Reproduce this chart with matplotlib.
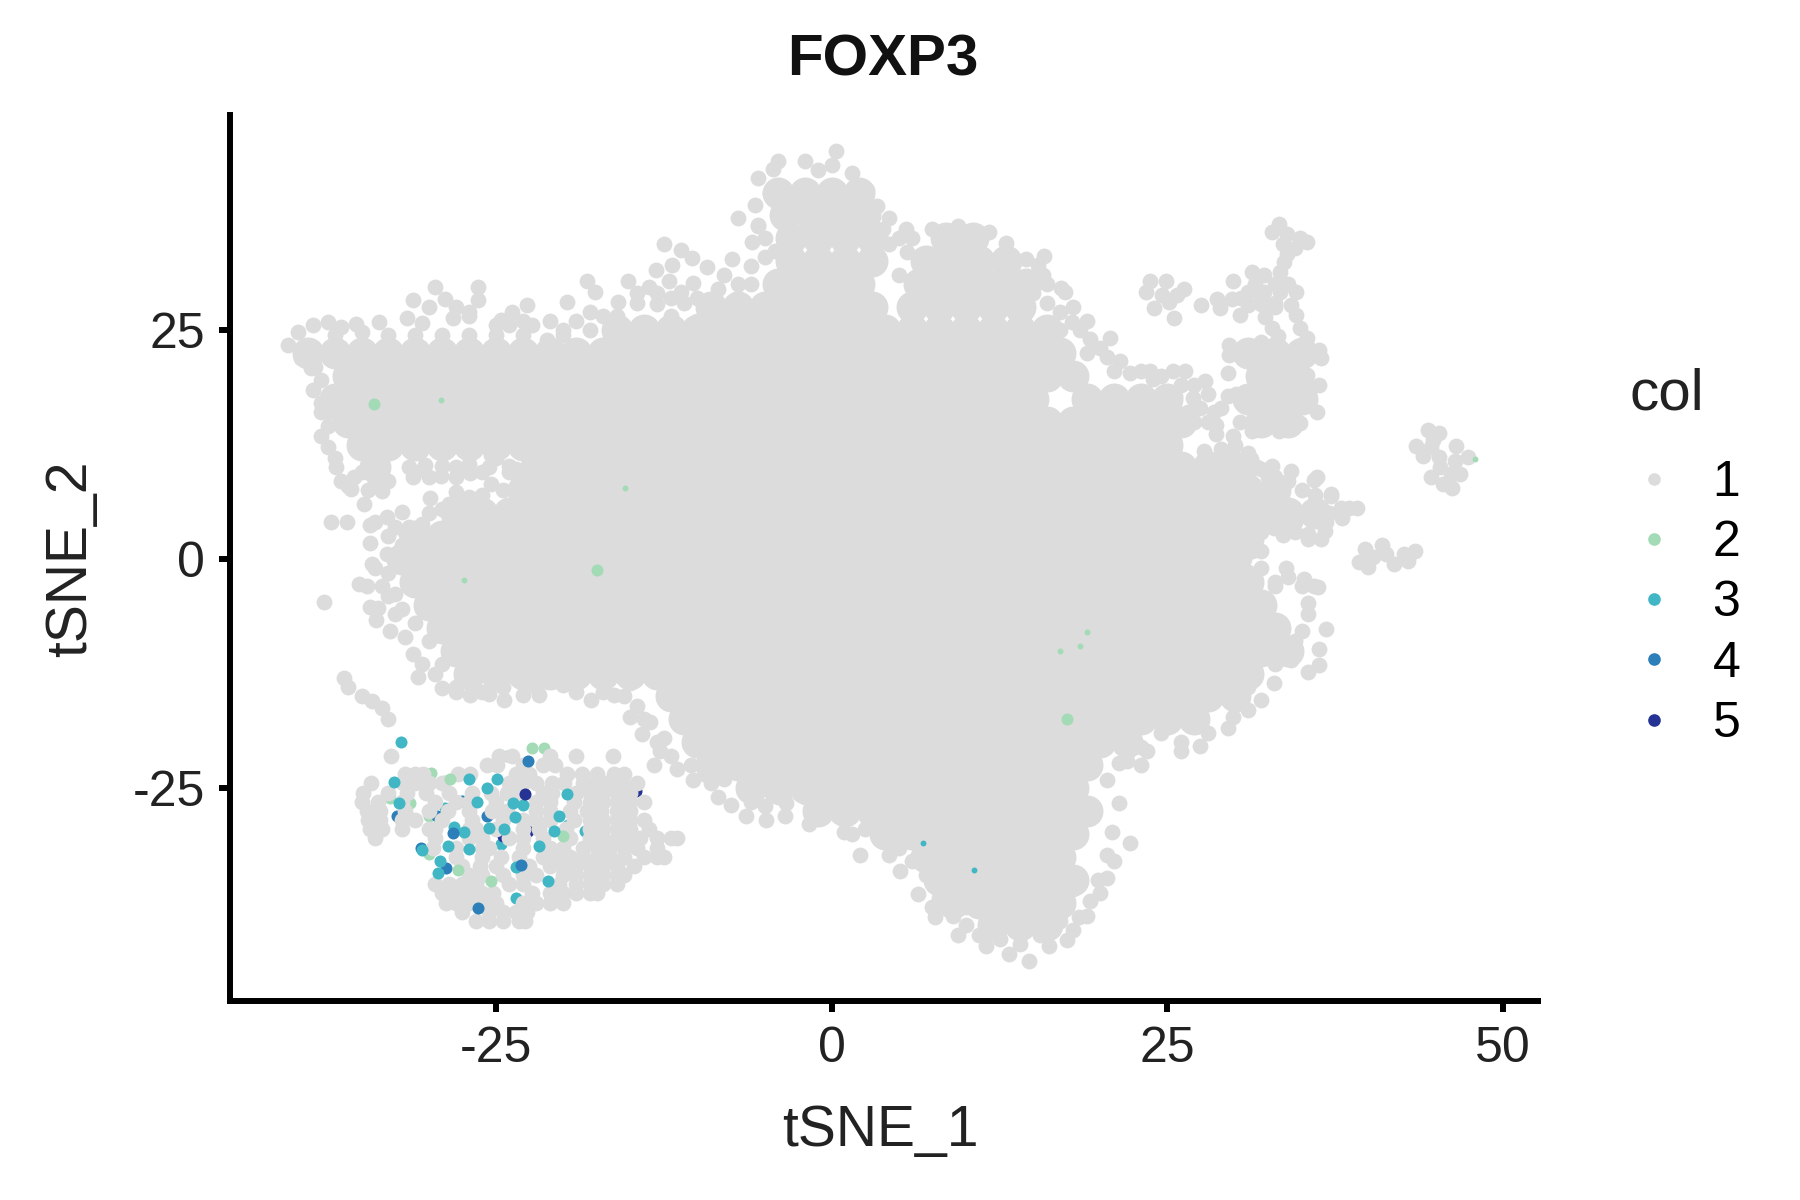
import matplotlib
matplotlib.use("Agg")
import matplotlib.pyplot as plt
from matplotlib.lines import Line2D

plt.rcParams['font.family'] = ['Liberation Sans', 'DejaVu Sans']

# colours for the expression bins
col_levels = ['1', '2', '3', '4', '5']
col_colors = ['#dcdcdc', '#a3dbb7', '#41b6c4', '#2c7fb8', '#253494']
x_ticks = [-25, 0, 25, 50]
y_ticks = [-25, 0, 25]

core_rows = {
    40: [-4, -2, 0, 2],
    37.5: [-3.5, -1.5, 0.5, 2.5],
    35: [-3, -1, 1, 3, 8.5, 10.5],
    32.5: [-3, -1, 1, 3, 7, 9, 11, 13],
    30: [-4, -2, 0, 2, 6.5, 8.5, 10.5, 12.5, 14.5],
    27.5: [-9, -7, -5, -3, -1, 1, 3, 6, 8, 10, 12, 14],
    25: [-16, -14, -12, -10, -8, -6, -4, -2, 0, 2, 4, 6, 8, 10, 12, 14, 16],
    22.5: [-39, -37, -35, -33, -31, -29, -27, -25, -23, -21, -19, -17, -15, -13, -11, -9, -7, -5, -3, -1, 1, 3, 5, 7, 9, 11, 13, 15, 17, 31, 33, 35],
    20: [-36, -34, -32, -30, -28, -26, -24, -22, -20, -18, -16, -14, -12, -10, -8, -6, -4, -2, 0, 2, 4, 6, 8, 10, 12, 14, 16, 18, 32, 34],
    17.5: [-37, -35, -33, -31, -29, -27, -25, -23, -21, -19, -17, -15, -13, -11, -9, -7, -5, -3, -1, 1, 3, 5, 7, 9, 11, 13, 15, 19, 21, 23, 25, 31, 33, 35],
    15: [-36, -34, -32, -30, -28, -26, -24, -22, -20, -18, -16, -14, -12, -10, -8, -6, -4, -2, 0, 2, 4, 6, 8, 10, 12, 14, 16, 18, 20, 22, 24, 26, 32, 34],
    12.5: [-35, -33, -31, -29, -27, -25, -23, -21, -19, -17, -15, -13, -11, -9, -7, -5, -3, -1, 1, 3, 5, 7, 9, 11, 13, 15, 17, 19, 21, 23, 25],
    10: [-34, -22, -20, -18, -16, -14, -12, -10, -8, -6, -4, -2, 0, 2, 4, 6, 8, 10, 12, 14, 16, 18, 20, 22, 24, 26, 28, 30],
    7.5: [-23, -21, -19, -17, -15, -13, -11, -9, -7, -5, -3, -1, 1, 3, 5, 7, 9, 11, 13, 15, 17, 19, 21, 23, 25, 27, 29, 31, 33],
    5: [-28, -26, -24, -22, -20, -18, -16, -14, -12, -10, -8, -6, -4, -2, 0, 2, 4, 6, 8, 10, 12, 14, 16, 18, 20, 22, 24, 26, 28, 30, 32, 34, 36],
    2.5: [-31, -29, -27, -25, -23, -21, -19, -17, -15, -13, -11, -9, -7, -5, -3, -1, 1, 3, 5, 7, 9, 11, 13, 15, 17, 19, 21, 23, 25, 27, 29, 31],
    0: [-32, -30, -28, -26, -24, -22, -20, -18, -16, -14, -12, -10, -8, -6, -4, -2, 0, 2, 4, 6, 8, 10, 12, 14, 16, 18, 20, 22, 24, 26, 28, 30],
    -2.5: [-31, -29, -27, -25, -23, -21, -19, -17, -15, -13, -11, -9, -7, -5, -3, -1, 1, 3, 5, 7, 9, 11, 13, 15, 17, 19, 21, 23, 25, 27, 29, 31],
    -5: [-30, -28, -26, -24, -22, -20, -18, -16, -14, -12, -10, -8, -6, -4, -2, 0, 2, 4, 6, 8, 10, 12, 14, 16, 18, 20, 22, 24, 26, 28, 30, 32],
    -7.5: [-29, -27, -25, -23, -21, -19, -17, -15, -13, -11, -9, -7, -5, -3, -1, 1, 3, 5, 7, 9, 11, 13, 15, 17, 19, 21, 23, 25, 27, 29, 31, 33],
    -10: [-28, -26, -24, -22, -20, -18, -16, -14, -12, -10, -8, -6, -4, -2, 0, 2, 4, 6, 8, 10, 12, 14, 16, 18, 20, 22, 24, 26, 28, 30, 32, 34],
    -12.5: [-27, -25, -23, -21, -19, -17, -15, -13, -11, -9, -7, -5, -3, -1, 1, 3, 5, 7, 9, 11, 13, 15, 17, 19, 21, 23, 25, 27, 29, 31],
    -15: [-12, -10, -8, -6, -4, -2, 0, 2, 4, 6, 8, 10, 12, 14, 16, 18, 20, 22, 24, 26, 28, 30],
    -17.5: [-11, -9, -7, -5, -3, -1, 1, 3, 5, 7, 9, 11, 13, 15, 17, 19, 21, 23, 25, 27],
    -20: [-10, -8, -6, -4, -2, 0, 2, 4, 6, 8, 10, 12, 14, 16, 18, 20, 22],
    -22.5: [-9, -7, -5, -3, -1, 1, 3, 5, 7, 9, 11, 13, 15, 17, 19],
    -25: [-6, -4, -2, 0, 2, 4, 6, 8, 10, 12, 14, 16, 18],
    -27.5: [-1, 1, 3, 5, 7, 9, 11, 13, 15, 17, 19],
    -30: [4, 6, 8, 10, 12, 14, 16, 18],
    -32.5: [7, 9, 11, 13, 15, 17],
    -35: [8, 10, 12, 14, 16, 18],
    -37.5: [9, 11, 13, 15, 17],
    -40: [12, 14, 16],
}

# grey points along the outline and in the small islands
edge_points = [
    (0.3, 44.5), (-2, 43.4), (-4, 43.5), (-4.4, 42.6), (-5.5, 41.6), (1.5, 42.1), (0, 43), (-1, 42.5), (2.6, 40.3), (3.4, 38.5),
    (4.3, 37.2), (4.3, 34.4), (-7, 37.2), (-5.7, 38.6), (-5.5, 36.4), (-4.2, 33.6), (-3, 32), (1.5, 31.2), (2.5, 29), (3.8, 36), (-4.6, 40),
    (-40.5, 23.4), (-39.7, 24.8), (-38.6, 25.5), (-37.5, 25.9), (-36.5, 25.3), (-35.4, 25.7), (-33.7, 25.9), (-39.5, 21.9), (-38.8, 20.8), (-38.6, 18.5),
    (-38, 16.1), (-38, 13.4), (-37.5, 12.2), (-36.9, 10), (-35.6, 8.9), (-35.8, 7.6), (-34.8, 6), (-33.5, 7.4), (-33.7, 9.1), (-31.2, 8.9),
    (-29.1, 9.1), (-26.9, 9.4), (-25.4, 11.4), (-23.5, 9.8), (-31.5, 10), (-30.3, 10.3), (-29, 10.2), (-28, 10), (-27, 10.4), (-25.5, 10), (-24, 10.2),
    (-38.5, 22), (-37, 24.5), (-35, 24.8), (-33, 24.5), (-31, 24.5), (-29, 24.5), (-27, 24.5), (-25, 24.5), (-23, 24.5), (-20, 24.5), (-19, 26), (-18, 27),
    (-29.5, 29.7), (-31.2, 28.3), (-31.6, 26.3), (-30.5, 25.8), (-28.8, 28.4), (-26.3, 29.7), (-26.3, 28.3), (-28.2, 26.3), (-27, 26.5), (-24.6, 26.1),
    (-23.8, 27), (-22.7, 27.7), (-22.3, 25.5), (-21.2, 23.9), (-19.7, 28.1), (-18.2, 30.4), (-17.6, 29.2), (-15.2, 30.4), (-15.9, 28.1), (-13.6, 29.7),
    (-14.5, 28), (-13, 27.8), (-12.1, 30.3), (-11.2, 29.2), (-13.1, 31.5), (-11.9, 32.1), (-10.4, 32.9), (-10.3, 30.1), (-12.5, 34.4), (-11.2, 33.7),
    (-9.3, 31.9), (-7.4, 32.8), (-5.9, 34.6), (-7, 30), (-8.5, 29.5),
    (5.6, 33.5), (7.5, 36), (9.4, 36.4), (11.7, 35.7), (13.2, 33), (15.8, 33.1), (14.5, 32.8), (15.7, 31), (17.4, 29.2), (5, 31), (13, 34.5),
    (-29.9, 6.7), (-28, 7.3), (-25.4, 8.2), (-22.7, 8), (-20.8, 8.5), (-21.2, 7.4), (-18.2, 7.4), (-17, 9.3), (-27, 6.8), (-29, 5.5),
    (-32, 5.1), (-33.1, 4.6), (-34.4, 3.7), (-36.1, 4), (-37.3, 4), (-31.8, 2.9), (-34.4, 1.7), (-30.5, 3.8), (-33.1, 0.6), (-34.2, -0.5),
    (-35.2, -2.7), (-37.8, -4.7), (-34.4, -5.2), (-33.9, -6.7), (-34.6, -2.9), (-33.8, -5.4), (-32.9, -7.9), (-31.2, -10.4), (-30.8, -12.9), (-29, -14.1),
    (-33, -4), (-32.5, -6), (-31.8, -8.5), (-30.5, -11.5), (-29.5, -12.5),
    (-26.9, -14.8), (-24.4, -15.4), (-21.8, -14.8), (-20, -13.8), (-17.9, -15.4), (-16.2, -14.8), (-15, -17.3), (-14.1, -19.1), (-12.8, -21), (-11.5, -22.9),
    (-28, -14.5), (-25.5, -14.7), (-23, -14.9), (-15.5, -15), (-14.5, -16), (-13.5, -17.8), (-12.5, -19.5),
    (-10.3, -24.1), (-8.5, -26), (-6.4, -28.1), (-4.9, -28.5), (-3.4, -26.6), (-1.7, -28.9), (0.9, -29.8), (2.1, -32.3), (4.3, -32.3), (5.1, -34.1),
    (-9, -24.5), (-7.5, -26.8), (-5, -27), (-3.5, -28), (-1, -27), (0.5, -28), (1.5, -30), (2.5, -29.5), (4, -30.5),
    (6.4, -36.6), (7.7, -39.1), (9.4, -41), (11.5, -42.3), (13.2, -43.1), (14.7, -43.9), (16.2, -42.3), (17.5, -41.6), (18.4, -39.1), (19.2, -37.3),
    (20.5, -34.8), (20.5, -32.3), (20.9, -29.8), (22.2, -31), (21.4, -26.6), (21.4, -22.3), (20.5, -24.1), (8, -37), (9, -39), (10, -40), (12.5, -41.5), (18, -36),
    (23.5, -21), (26, -21), (27.4, -20.4), (29.5, -18.5), (29.9, -17.3), (32, -15.4), (32.9, -13.5), (34.2, -11), (35, -7.9), (35.5, -4.8),
    (35.9, -2.9), (36.8, -7.6), (36.3, -9.8), (36.3, -11.6), (35.5, -12.3), (36.2, -3.1), (33.8, -1), (32, 0.9), (31.6, 2.1), (32.9, 3.4),
    (35.5, 2.7), (36.8, 4), (38, 5.3), (39.1, 5.6), (37.2, 7.1), (35.9, 8.6), (34.2, 9.6), (32.5, 9), (31.2, 10.9), (29, 10.3),
    (29.9, 13.4), (28.6, 14.6), (27.4, 16.5), (25.6, 17.8), (23.9, 19.6), (22.2, 20.3), (20.5, 22.1), (19.2, 24), (17.9, 25.9), (17.1, 29.6), (15.4, 32.1),
    (23.7, 30.3), (24.9, 30.4), (26.2, 29.5), (23.4, 29.2), (24.6, 28.8), (25.7, 28.8), (24, 27.4), (25.1, 28.1), (25.5, 26.3),
    (27.5, 27.7), (28.7, 28.4), (28.9, 27.4), (29.8, 28.4), (29.9, 30.3), (30.4, 26.6), (31.3, 31.3), (31, 29.2), (31, 27.7), (32.2, 29.2),
    (32.2, 31), (33.4, 31.3), (33.4, 29.2), (34.6, 29.2), (34.2, 27.7), (33.7, 32.4), (33.9, 33.3), (32, 27.8), (33, 28),
    (33.3, 36.6), (32.8, 35.7), (33.9, 35.5), (34.9, 35), (35.4, 34.6), (33.6, 34.4), (34.5, 34),
    (32.3, 26.4), (32.8, 25.2), (33.2, 24.3), (34.6, 26.6), (34.9, 25.2), (35.4, 24.1),
    (29.6, 23.4), (29.6, 22.3), (30.7, 22.8), (32, 23.7), (34.5, 23), (36.3, 22.8), (36.4, 21.9), (32.8, 22.3), (29.5, 20.3), (35.4, 20.1),
    (36.3, 19), (29, 16.5), (29.5, 17.8), (36.1, 16.1), (35.5, 17.2), (30.4, 15), (31.3, 14), (33.3, 14), (34.9, 14.9), (30.1, 18), (32.5, 15), (35.5, 19),
    (44.4, 14.1), (45.2, 13.8), (43.5, 12.3), (44.6, 12.2), (44, 11.2), (45.2, 11.1), (46.5, 12.3), (47.4, 11.1), (46.4, 10.7), (46.1, 9.3),
    (44.6, 8.9), (45.5, 8.2), (46.8, 9.3), (46.2, 7.8), (45.3, 10), (44.8, 13),
    (39.7, 1.1), (41, 1.5), (39.3, -0.3), (40.3, 0.2), (41.9, -0.5), (41.3, 0.6), (42.9, -0.2), (43.4, 0.9), (39.9, -0.9), (42.6, 0.6),
    (33.6, 2.6), (35.2, -2.2), (31, -1.4), (31.7, 10), (32.8, 10.2), (36.1, 8.9), (37.2, 6.9), (37.9, 5.6), (38.5, 5.6), (36.7, 3.1),
    (35.5, 2.2), (36.4, 2.2), (34.5, 2.9), (31.3, 0.9), (30.7, 0), (33, -2.5),
    (20.7, 24.1), (21.5, 21.6), (23.7, 20.5), (25.4, 20.5), (26.3, 20.5), (27.8, 19.4), (26.9, 17.6), (26.5, 16.1), (28.6, 13.6), (28, 15),
    (27.7, 11.8), (30, 12.5), (31, 11.6), (32, 9.8), (-36, -14), (-35, -15), (-34.2, -15.5), (-33.5, -16.3), (-33, -17.5), (-36.3, -13),
    # second pass, filling the ring between outline and mass
    (-30, 27.5), (-28, 27.5), (-27, 27), (-25, 25.5), (-24, 25.5), (-23, 26), (-21, 26), (-20, 25), (-18, 25), (-17, 26.5), (-16, 26.5),
    (-14.5, 29), (-13, 29), (-12, 28.5), (-11, 28), (-10, 28.5), (-10, 26), (-12, 26.5),
    (-8, 31), (-6, 32), (-6, 30), (-7, 28.5), (-5.5, 36.5), (-5, 35), (-5, 33),
    (5.5, 36), (6, 35), (5, 35), (15, 29), (16, 30), (16, 28), (17, 27), (18, 27.5), (19, 26), (17, 25), (18.5, 25),
    (19, 22.5), (20, 23), (21, 20.5), (23, 20.5), (24.5, 20), (26, 19), (27, 19), (28, 18), (27, 15), (28.5, 16), (29, 12), (28, 11), (29.5, 11), (30, 10),
    (31, 9), (33, 9), (34, 8.5), (35, 7.5), (36, 7), (36, 5.5), (37, 5), (38, 4.5), (35, 5), (34.5, 4), (33, 5), (33.5, 6.5),
    (31, -16.5), (30, -15.5), (31, -14), (33, -11.5), (34.5, -9), (35.5, -6), (35, -3), (34, -2), (33, -3), (32, -1), (30.5, 1), (32, 3), (33.5, 4.5),
    (28, -19), (26, -20), (24.5, -19), (23, -20.5), (22, -22), (23, -22.5),
    (19.8, -35), (21, -33), (20, -36.5), (19, -39), (18, -40.5), (14, -42), (15.5, -41), (10, -38), (8.5, -36), (7, -34.5), (6, -33), (5, -31.5), (7.5, -38), (11, -41), (16.5, -40.5), (17, -39.5),
    (-14, -17.5), (-13, -20), (-12, -21.5), (-10.5, -22.5), (-9.5, -23.5), (-8, -24), (-6, -26.5), (-4, -26), (-2, -26),
    (-34, -1), (-33.5, -3), (-32.5, -3.8), (-33, -1.5), (-32, -5.5), (-31, -7), (-30, -9), (-29, -11.5), (-28, -14), (-26, -14.5), (-24.5, -14), (-22, -14), (-19, -14.5), (-17, -14.5), (-15, -13.5),
    (-34, 4), (-32.5, 3.5), (-31.5, 3.5), (-30, 5), (-30, 2), (-33, 2.5), (-32, 1.5), (-28.5, 6), (-26, 7), (-24.5, 7.5),
    (-36.5, 8.5), (-37, 11), (-37.5, 14.5), (-37.5, 16), (-38, 17), (-38, 19.5), (-38.5, 21), (-36, 8), (-34.5, 7.5), (-35, 9.5), (-34, 8.5), (-33, 8.5),
    (-31, 9.5), (-30, 9), (-28, 9), (-26, 9.5), (-25, 11), (-24, 9.5), (-23, 9), (-22, 8.5), (-19, 8.5),
    (30.5, 28.5), (32, 28.5), (33, 30), (34, 30), (31.5, 30), (33, 27.5),
]

# grey points in the small cluster at lower left
cluster_rows = {
    -21.5: [-32.8, -24.8, -23.8, -21, -19, -16.3],
    -22.5: [-25.7, -24.9, -23, -21.5, -20.6, -13.2],
    -23.5: [-31.8, -31, -30.4, -27.8, -26.9, -23.5, -22.5, -19.7, -18.6, -17.5, -16.2, -15.5],
    -24.5: [-34.3, -31.9, -31, -30, -29, -24, -23, -22, -20.8, -19.9, -18.5, -17.6, -16.7, -15.6, -14.5],
    -25.5: [-34.9, -33, -31.6, -30.2, -28.5, -26.8, -25.4, -24.2, -23.2, -21.5, -20.8, -19, -18, -17, -16, -15],
    -26.5: [-35, -33.8, -32, -29.5, -28, -27, -25, -22, -21, -19.2, -18, -17, -16, -15, -14],
    -27.5: [-34.6, -33.6, -31.8, -30, -28.6, -27, -25.3, -24.2, -22, -21, -19.5, -18.2, -17.2, -16, -15],
    -28.5: [-34.5, -33.6, -32, -31, -29, -26.8, -24.5, -23, -22, -21, -19.2, -18, -17, -16, -15, -14],
    -29.5: [-34.4, -33.5, -32, -30, -29.5, -27, -26.5, -25, -23, -21.8, -19.8, -18, -17, -16, -15, -13.6],
    -30.5: [-34, -29.5, -27, -26, -24, -23, -21.5, -19.5, -18, -17, -16, -15, -14.3, -13, -12, -11.5],
    -31.5: [-29.7, -28, -26, -25.5, -23, -21, -20, -18.5, -17.5, -16.5, -15.5, -14.5, -13],
    -32.5: [-28, -26, -24.6, -23.3, -21.5, -20.5, -19.5, -18.5, -17.5, -16.5, -15.5, -14, -13, -12.5],
    -33.5: [-27.5, -26.2, -25, -22.5, -21, -20, -19, -18, -17, -16, -14.7],
    -34.5: [-27, -26, -24.5, -23, -22, -20, -19, -18, -17, -16, -15.5],
    -35.5: [-29.5, -28.5, -27.5, -26.5, -24, -23, -20.3, -19, -18, -17, -16],
    -36.5: [-29, -28, -27, -26, -25.2, -22.3, -21, -20, -19, -18, -17.5],
    -37.5: [-28.7, -28, -27, -26, -25, -23, -22, -21, -20],
    -38.5: [-27.5, -25.5, -24.5, -23.5, -22.7],
    -39.5: [-26.5, -25.5, -24.5, -23.3, -22.8],
}

# only slivers of these show between the grey points
sliver_col2 = [(-29.1, 17.4), (-27.4, -2.3), (19, -8), (17, -10), (47.9, 10.9), (-15.4, 7.8), (18.5, -9.5)]
sliver_col3 = [(10.6, -33.9), (6.8, -31)]

# coloured cells, partly hidden under the grey ones
under_col2 = [(-21.4, -20.6), (-24.2, -21.5), (-29.8, -23.4), (-28.8, -24.2), (-32.9, -26.1), (-30, -28), (-30, -32.2), (-31.4, -26.6)]
under_col3 = [(-28.8, -27.2), (-24.6, -31.1), (-28.1, -29.3), (-23.5, -37), (-19.6, -29), (-18.4, -29.7)]
under_col4 = [(-27.5, -26.4), (-32.4, -28), (-29.4, -28.1), (-30.6, -31.5), (-28.7, -33.7), (-25.7, -28.1), (-20.8, -24.3)]
under_col5 = [(-22.6, -29.7), (-24.5, -30.2), (-14.6, -25.3)]

# coloured cells drawn on top
top_col2 = [(-22.3, -20.6), (-28.4, -24), (-20, -30.2), (-27.8, -33.9), (-25.4, -35.1), (-34.1, 16.9), (-17.5, -1.2), (17.5, -17.5)]
top_col3 = [(-32.1, -20), (-32.6, -24.3), (-27, -24), (-24.9, -24), (-26.4, -26.5), (-27.4, -29.8), (-27, -31.7), (-30.5, -31.8),
            (-29.2, -33), (-29.3, -34.3), (-23.5, -33.6), (-21.1, -35.1), (-20.3, -28.1), (-21.8, -31.3),
            (-25.7, -25), (-23.7, -26.6), (-23, -26.8), (-24.4, -29.5), (-25.5, -29.4), (-23.6, -28.2), (-28.6, -31.3),
            (-19.7, -25.6), (-20.7, -29.7), (-32.2, -26.6)]
top_col4 = [(-22.6, -22), (-28.2, -29.9), (-26.3, -38.1), (-23.1, -33.4)]
top_col5 = [(-22.8, -25.7)]


def row_xy(rows):
    xs = [x for y, vals in rows.items() for x in vals]
    ys = [y for y, vals in rows.items() for x in vals]
    return xs, ys


def draw_points(ax, pts, color, z, size=75):
    ax.scatter([p[0] for p in pts], [p[1] for p in pts], s=size, c=color, linewidths=0, zorder=z)


fig = plt.figure(figsize=(18, 12), dpi=100)
ax = fig.add_axes([230 / 1800, 1 - 1001 / 1200, (1537.7 - 230) / 1800, (1001 - 115) / 1200])

core_x, core_y = row_xy(core_rows)
ax.scatter(core_x, core_y, s=530, c=col_colors[0], linewidths=0, zorder=1)
draw_points(ax, edge_points, col_colors[0], 1, size=130)

draw_points(ax, sliver_col2, col_colors[1], 2, size=18)
draw_points(ax, sliver_col3, col_colors[2], 2, size=18)

draw_points(ax, under_col2, col_colors[1], 2)
draw_points(ax, under_col3, col_colors[2], 2)
draw_points(ax, under_col4, col_colors[3], 2)
draw_points(ax, under_col5, col_colors[4], 2)

cluster_x, cluster_y = row_xy(cluster_rows)
ax.scatter(cluster_x, cluster_y, s=130, c=col_colors[0], linewidths=0, zorder=3)

draw_points(ax, top_col2, col_colors[1], 4)
draw_points(ax, top_col3, col_colors[2], 4)
draw_points(ax, top_col4, col_colors[3], 4)
draw_points(ax, top_col5, col_colors[4], 4)

ax.set_xlim(-44.8, 52.57)
ax.set_ylim(-48.25, 48.47)
ax.set_xticks(x_ticks)
ax.set_yticks(y_ticks)
ax.set_xticklabels(['-25', '0', '25', '50'])
ax.set_yticklabels(['-25', '0', '25'])
ax.tick_params(labelsize=36, width=4.3, length=8, pad=10, color='black', labelcolor='#222222')

for side in ['top', 'right']:
    ax.spines[side].set_visible(False)
for side in ['left', 'bottom']:
    ax.spines[side].set_linewidth(4.3)

fig.text(883 / 1800, 1 - 61 / 1200, 'FOXP3', fontsize=42, fontweight='bold', ha='center', va='center', color='#111111')
fig.text(880 / 1800, 1 - 1131 / 1200, 'tSNE_1', fontsize=41, ha='center', va='center', color='#222222')
fig.text(71 / 1800, 1 - 559 / 1200, 'tSNE_2', fontsize=41, rotation=90, ha='center', va='center', color='#222222')
fig.text(1667 / 1800, 1 - 395 / 1200, 'col', fontsize=42, ha='center', va='center', color='#222222')

handles = [Line2D([], [], linestyle='', marker='o', markersize=9.1, markerfacecolor=c, markeredgewidth=0, label=l)
           for l, c in zip(col_levels, col_colors)]
fig.legend(handles=handles, frameon=False, fontsize=36, loc='upper left',
           bbox_to_anchor=(1610 / 1800, 1 - 435 / 1200), labelspacing=0.285,
           handletextpad=0.8, handlelength=0.75, borderpad=0)

fig.savefig('out.png', dpi=100)
